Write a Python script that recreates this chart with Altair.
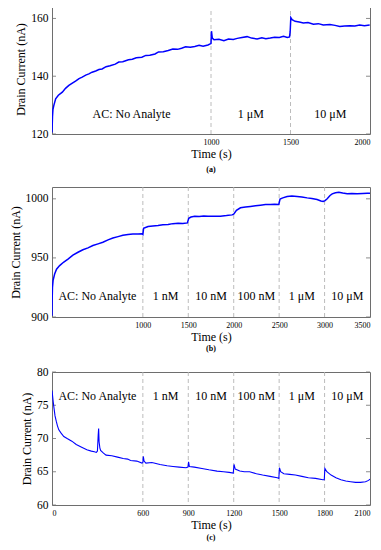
import altair as alt
import pandas as pd

FONT = "Liberation Serif"
BLUE = "#0000ff"
FRAME = "#6e6e6e"

# ---------------- Panel (a) ----------------
a_t = [0, 3, 6, 12, 23, 40, 65, 85, 106, 128, 148, 170, 190, 212, 232, 252, 275, 295, 315, 340,
       365, 398, 420, 445, 481, 505, 530, 565, 590, 615, 648, 670, 700, 731, 760, 790, 815, 840,
       870, 898, 925, 950, 981, 995, 1000, 1003, 1008, 1019, 1050, 1081, 1110, 1140, 1165, 1195,
       1227, 1255, 1290, 1320, 1345, 1373, 1400, 1430, 1456, 1480, 1494, 1498, 1502, 1510, 1529,
       1555, 1581, 1610, 1644, 1675, 1706, 1748, 1780, 1810, 1840, 1873, 1905, 1935, 1965, 1998]
a_v = [120.5, 126.0, 128.5, 130.0, 132.2, 133.4, 134.5, 135.8, 136.8, 137.6, 138.3, 139.2, 139.7,
       140.4, 140.8, 141.4, 141.8, 142.3, 142.5, 143.3, 143.6, 144.2, 144.9, 145.0, 145.7, 145.9,
       146.4, 146.6, 147.2, 147.3, 147.7, 148.4, 148.5, 148.9, 149.4, 149.3, 149.7, 150.2, 150.0,
       150.3, 150.7, 150.4, 150.8, 151.2, 151.3, 155.6, 153.2, 152.6, 152.8, 152.3, 152.9, 152.7,
       153.1, 153.4, 153.7, 153.2, 152.9, 153.3, 153.0, 153.2, 153.5, 153.4, 153.8, 153.4, 153.6,
       155.5, 160.3, 159.6, 159.0, 158.8, 158.4, 158.6, 158.0, 158.2, 157.7, 157.9, 157.6, 157.2,
       157.4, 157.5, 157.4, 157.7, 157.5, 157.7]
a_xticks = [1000, 1500, 2000]
a_yticks = [120, 140, 160]
a_bounds = [0, 1000, 1500, 2000]
a_labels = ["AC: No Analyte", "1 μM", "10 μM"]
a_label_v = 127.0

# ---------------- Panel (b) ----------------
b_t = [0, 2, 5, 12, 29, 50, 84, 130, 176, 230, 286, 340, 396, 450, 507, 560, 617, 670, 727, 780,
       837, 890, 947, 990, 1000, 1008, 1057, 1110, 1167, 1220, 1278, 1330, 1388, 1440, 1490, 1505,
       1530, 1571, 1620, 1670, 1718, 1770, 1854, 1920, 1982, 2000, 2030, 2074, 2130, 2184, 2240,
       2294, 2350, 2404, 2450, 2496, 2510, 2540, 2588, 2640, 2698, 2750, 2808, 2860, 2918, 2960,
       2985, 3005, 3029, 3060, 3084, 3120, 3157, 3200, 3249, 3300, 3359, 3420, 3470, 3500]
b_v = [901, 915, 925, 931, 936.4, 940.5, 943.5, 946.5, 949, 952.3, 954.8, 956.9, 958.5, 960.5,
       961.9, 963.3, 965.3, 966.8, 968, 969.2, 969.8, 970.3, 970.3, 970.5, 969.8, 975.0, 976.5,
       977.0, 977.4, 978.0, 978.3, 979.0, 979.4, 979.2, 979.6, 983.5, 984.6, 985.3, 985.1, 985.4,
       985.3, 985.2, 985.3, 985.8, 986.4, 987.0, 990.2, 992.4, 993.0, 993.5, 994.1, 994.6, 995.1,
       995.2, 995.4, 995.2, 999.8, 1000.8, 1002, 1002.3, 1002, 1001.6, 1000.8, 1000.2, 999.4,
       998.2, 997.7, 998.5, 1000, 1002.8, 1004.2, 1005.1, 1005.6, 1004.9, 1004.2, 1004.5, 1004.2,
       1004.6, 1004.7, 1004.8]
b_xticks = [1000, 1500, 2000, 2500, 3000, 3500]
b_yticks = [900, 950, 1000]
b_bounds = [0, 1000, 1500, 2000, 2500, 3000, 3500]
b_labels = ["AC: No Analyte", "1 nM", "10 nM", "100 nM", "1 μM", "10 μM"]
b_label_v = 918.0

# ---------------- Panel (c) ----------------
c_t = [0, 2, 8, 13, 20, 28, 36, 45, 60, 78, 100, 131, 160, 196, 230, 260, 280, 293, 300, 305,
       308, 311, 316, 321, 340, 357, 395, 433, 470, 500, 519, 560, 594, 600, 603, 608, 620, 660,
       713, 760, 799, 840, 885, 898, 902, 907, 940, 990, 1036, 1090, 1133, 1170, 1197, 1202, 1210,
       1240, 1270, 1305, 1350, 1391, 1440, 1488, 1498, 1502, 1510, 1531, 1570, 1607, 1650, 1693,
       1740, 1789, 1798, 1802, 1815, 1843, 1875, 1908, 1940, 1972, 2005, 2037, 2070, 2091, 2100]
c_v = [77.2, 76.8, 75.5, 74.6, 73.4, 72.6, 71.9, 71.3, 70.8, 70.3, 70.0, 69.6, 69.1, 68.7, 68.3,
       68.1, 68.0, 67.9, 68.1, 70.5, 71.5, 69.5, 68.6, 68.2, 67.8, 67.5, 67.4, 67.2, 67.0, 66.9,
       66.7, 66.6, 66.3, 66.4, 67.3, 66.6, 66.3, 66.4, 66.1, 65.9, 65.8, 65.7, 65.6, 65.7, 66.5,
       65.8, 65.7, 65.5, 65.3, 65.1, 65.0, 64.9, 64.8, 66.1, 65.4, 65.1, 65.0, 65.0, 64.7, 64.5,
       64.3, 64.1, 64.0, 65.6, 65.0, 64.7, 64.6, 64.5, 64.3, 64.1, 64.0, 63.8, 63.8, 65.5, 65.0,
       64.5, 64.1, 63.8, 63.6, 63.5, 63.4, 63.4, 63.5, 63.7, 63.9]
c_xticks = [0, 600, 900, 1200, 1500, 1800, 2100]
c_yticks = [60, 65, 70, 75, 80]
c_bounds = [0, 600, 900, 1200, 1500, 1800, 2100]
c_labels = ["AC: No Analyte", "1 nM", "10 nM", "100 nM", "1 μM", "10 μM"]
c_label_v = 76.4


def panel(ts, vs, xdom, ydom, xticks, yticks, bounds, labels, label_v, caption,
          w, h, stroke_w, cap_offset):
    xs = alt.Scale(domain=xdom, nice=False, zero=False)
    ys = alt.Scale(domain=ydom, nice=False, zero=False)
    xax = alt.Axis(values=xticks, title="Time (s)", labelFontSize=8, titleFontSize=12,
                   ticks=False, domain=False, grid=False, labelPadding=4, titlePadding=2,
                   labelFont=FONT, titleFont=FONT, titleFontWeight="normal",
                   labelColor="black", titleColor="black", format="d")
    yax = alt.Axis(values=yticks, title="Drain Current (nA)", labelFontSize=11.5,
                   titleFontSize=12, ticks=False, domain=False, grid=False,
                   labelPadding=4, titlePadding=3, labelFont=FONT, titleFont=FONT,
                   titleFontWeight="normal", labelColor="black", titleColor="black",
                   format="d")

    def X(f="t"):
        return alt.X(f"{f}:Q", scale=xs, axis=xax)

    def Y(f="v"):
        return alt.Y(f"{f}:Q", scale=ys, axis=yax)

    df = pd.DataFrame({"t": ts, "v": vs})
    inner = bounds[1:-1]
    df_b = pd.DataFrame({"t": inner})
    mids = [(bounds[i] + bounds[i + 1]) / 2 for i in range(len(bounds) - 1)]
    df_l = pd.DataFrame({"t": mids, "v": [label_v] * len(mids), "label": labels})
    df_tk = pd.DataFrame({"v": yticks})

    rules = alt.Chart(df_b).mark_rule(color="#b4b4b4", strokeDash=[4, 3],
                                      strokeWidth=0.9).encode(x=X())
    line = alt.Chart(df).mark_line(color=BLUE, strokeWidth=stroke_w,
                                   clip=True).encode(x=X(), y=Y())
    text = alt.Chart(df_l).mark_text(font=FONT, fontSize=12, color="black",
                                     baseline="middle").encode(x=X(), y=Y(), text="label:N")
    tick_l = alt.Chart(df_tk).mark_rule(color=FRAME, strokeWidth=0.8).encode(
        y=Y(), x=alt.value(0), x2=alt.value(4))
    tick_r = alt.Chart(df_tk).mark_rule(color=FRAME, strokeWidth=0.8).encode(
        y=Y(), x=alt.value(w - 4), x2=alt.value(w))

    return alt.layer(rules, tick_l, tick_r, line, text).properties(
        width=w, height=h,
        title=alt.TitleParams(caption, orient="bottom", fontSize=8, font=FONT,
                              fontWeight="bold", color="black", offset=cap_offset,
                              anchor="middle"),
    )


pa = panel(a_t, a_v, [0, 2000], [120, 165], a_xticks, a_yticks, a_bounds, a_labels,
           a_label_v, "(a)", 318, 130, 1.5, 7)
pb = panel(b_t, b_v, [0, 3500], [900, 1010], b_xticks, b_yticks, b_bounds, b_labels,
           b_label_v, "(b)", 318, 130, 1.5, 3)
pc = panel(c_t, c_v, [0, 2100], [60, 80], c_xticks, c_yticks, c_bounds, c_labels,
           c_label_v, "(c)", 318, 133, 1.1, 4)

chart = alt.vconcat(pa, pb, pc, spacing=11).properties(
    padding={"left": 0, "top": -5, "right": 0, "bottom": 0}
).configure_view(stroke=FRAME, strokeWidth=1)

chart.save("out.html", embed_options={"renderer": "svg", "actions": False})
